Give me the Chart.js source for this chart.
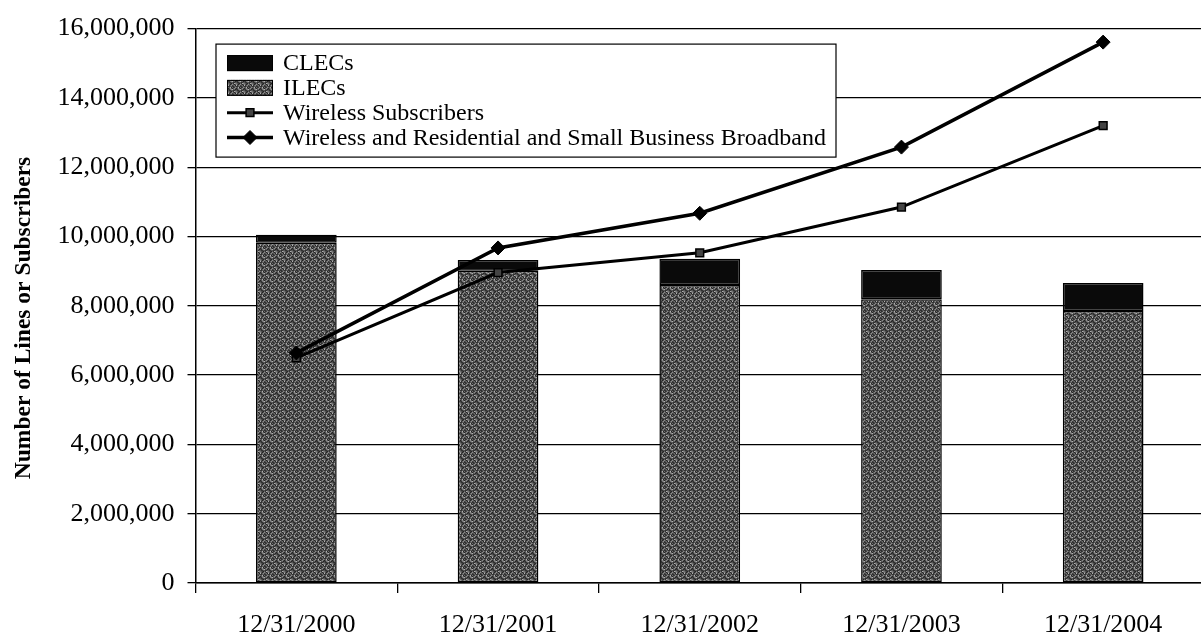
<!DOCTYPE html>
<html>
<head>
<meta charset="utf-8">
<script src="https://cdn.jsdelivr.net/npm/chart.js@4/dist/chart.umd.min.js"></script>
<style>
  html, body { margin: 0; padding: 0; background: #fff; overflow: hidden; }
  #wrap { width: 1212px; height: 636px; }
</style>
</head>
<body>
<div id="wrap"><canvas id="c" width="1212" height="636"></canvas></div>
<script>
// Year-end counts of access lines and subscribers
const categories = ['12/31/2000', '12/31/2001', '12/31/2002', '12/31/2003', '12/31/2004'];
const ilecLines = [9820000, 9010000, 8600000, 8190000, 7850000];
const clecLines = [230000, 310000, 760000, 840000, 810000];
const wirelessSubscribers = [6500000, 8960000, 9530000, 10850000, 13200000];
const wirelessAndBroadband = [6640000, 9670000, 10670000, 12580000, 15610000];
const yTickValues = [0, 2000000, 4000000, 6000000, 8000000, 10000000, 12000000, 14000000, 16000000];
const yAxisTitle = 'Number of Lines or Subscribers';
const legendOrder = ['CLECs', 'ILECs', 'Wireless Subscribers', 'Wireless and Residential and Small Business Broadband'];

const SERIF = '"Liberation Serif", "Times New Roman", serif';

// Grainy grey fill used for the ILEC bars (fixed scrambled tile)
function stipplePattern(ctx) {
  const n = 16;
  const tile = document.createElement('canvas');
  tile.width = n; tile.height = n;
  const g = tile.getContext('2d');
  const levels = [35, 60, 85, 110, 140, 175, 50, 95];
  for (let r = 0; r < n; r++) {
    for (let c = 0; c < n; c++) {
      const k = ((c * 7 + r * 13) ^ (c * r + 5 * c)) & 7;
      const v = levels[k];
      g.fillStyle = 'rgb(' + v + ',' + v + ',' + v + ')';
      g.fillRect(c, r, 1, 1);
    }
  }
  return ctx.createPattern(tile, 'repeat');
}

const canvas = document.getElementById('c');
const ctx = canvas.getContext('2d');
const ilecFill = stipplePattern(ctx);

// Rotated y-axis caption
const yTitlePlugin = {
  id: 'yTitle',
  afterDraw(chart) {
    const c = chart.ctx;
    c.save();
    c.translate(24, 318);
    c.rotate(-Math.PI / 2);
    c.font = 'bold 23.5px ' + SERIF;
    c.fillStyle = '#000';
    c.textAlign = 'center';
    c.textBaseline = 'middle';
    c.fillText(yAxisTitle, 0, 0);
    c.restore();
  }
};

// Boxed legend inside the plot area, top left
const boxLegendPlugin = {
  id: 'boxLegend',
  afterDatasetsDraw(chart) {
    const c = chart.ctx;
    const area = chart.chartArea;
    const x0 = area.left + 20.5, y0 = area.top + 15.5, w = 620, h = 113;
    c.save();
    c.fillStyle = '#fff';
    c.fillRect(x0, y0, w, h);
    c.strokeStyle = '#000';
    c.lineWidth = 1.2;
    c.strokeRect(x0, y0, w, h);
    c.font = '24px ' + SERIF;
    c.textBaseline = 'middle';
    c.textAlign = 'left';
    const symL = x0 + 11, symR = x0 + 57, textX = x0 + 67;
    legendOrder.forEach((name, i) => {
      const ds = chart.data.datasets.find(d => d.label === name);
      const y = y0 + 19 + i * 24.8;
      if (ds.type === 'line') {
        c.strokeStyle = ds.borderColor;
        c.lineWidth = ds.borderWidth;
        c.beginPath();
        c.moveTo(symL, y);
        c.lineTo(symR, y);
        c.stroke();
        c.fillStyle = ds.pointBackgroundColor;
        c.strokeStyle = ds.pointBorderColor;
        c.lineWidth = ds.pointBorderWidth;
        Chart.helpers.drawPoint(c, {
          pointStyle: ds.pointStyle,
          radius: ds.pointRadius,
          borderWidth: ds.pointBorderWidth,
          rotation: 0
        }, (symL + symR) / 2, y);
      } else {
        c.fillStyle = ds.backgroundColor;
        c.fillRect(symL, y - 8, symR - symL, 16);
        c.strokeStyle = '#000';
        c.lineWidth = 1;
        c.strokeRect(symL + 0.5, y - 7.5, symR - symL - 1, 15);
      }
      c.fillStyle = '#000';
      c.fillText(name, textX, y + 1);
    });
    c.restore();
  }
};

new Chart(ctx, {
  type: 'bar',
  data: {
    labels: categories,
    datasets: [
      {
        type: 'line',
        label: 'Wireless and Residential and Small Business Broadband',
        data: wirelessAndBroadband,
        stack: 'broadband',
        order: 0,
        borderColor: '#000',
        borderWidth: 3.5,
        tension: 0,
        pointStyle: 'rectRot',
        pointRadius: 7,
        pointBackgroundColor: '#000',
        pointBorderColor: '#000',
        pointBorderWidth: 1
      },
      {
        type: 'line',
        label: 'Wireless Subscribers',
        data: wirelessSubscribers,
        stack: 'wireless',
        order: 1,
        borderColor: '#000',
        borderWidth: 3,
        tension: 0,
        pointStyle: 'rect',
        pointRadius: 5.5,
        pointBackgroundColor: '#444',
        pointBorderColor: '#000',
        pointBorderWidth: 1.5
      },
      {
        label: 'ILECs',
        data: ilecLines,
        stack: 'wireline',
        order: 2,
        backgroundColor: ilecFill,
        borderColor: '#000',
        borderWidth: 1.5,
        borderSkipped: false
      },
      {
        label: 'CLECs',
        data: clecLines,
        stack: 'wireline',
        order: 2,
        backgroundColor: '#0a0a0a',
        borderColor: '#000',
        borderWidth: 1.5,
        borderSkipped: false
      }
    ]
  },
  options: {
    responsive: false,
    animation: false,
    devicePixelRatio: 1,
    categoryPercentage: 1,
    barPercentage: 0.4,
    layout: { padding: { top: 22.5, left: 0, right: 1, bottom: 0 } },
    plugins: {
      legend: { display: false },
      tooltip: { enabled: false }
    },
    scales: {
      x: {
        stacked: true,
        offset: true,
        grid: {
          display: true,
          offset: true,
          drawOnChartArea: false,
          drawTicks: true,
          tickLength: 10,
          color: '#000',
          lineWidth: 1.3
        },
        border: { color: '#000', width: 1.5 },
        ticks: {
          color: '#000',
          font: { family: SERIF, size: 26 },
          padding: 17,
          maxRotation: 0,
          autoSkip: false
        },
        afterFit(scale) { scale.height = 53; }
      },
      y: {
        stacked: true,
        min: 0,
        max: 16000000,
        afterBuildTicks(scale) {
          scale.ticks = yTickValues.map(v => ({ value: v }));
        },
        grid: { color: '#000', lineWidth: 1.3, tickLength: 8 },
        border: { color: '#000', width: 1.5 },
        ticks: {
          color: '#000',
          font: { family: SERIF, size: 26 },
          padding: 13,
          callback: v => Number(v).toLocaleString('en-US')
        },
        afterFit(scale) { scale.width = 195.5; }
      }
    }
  },
  plugins: [yTitlePlugin, boxLegendPlugin]
});
</script>
</body>
</html>
